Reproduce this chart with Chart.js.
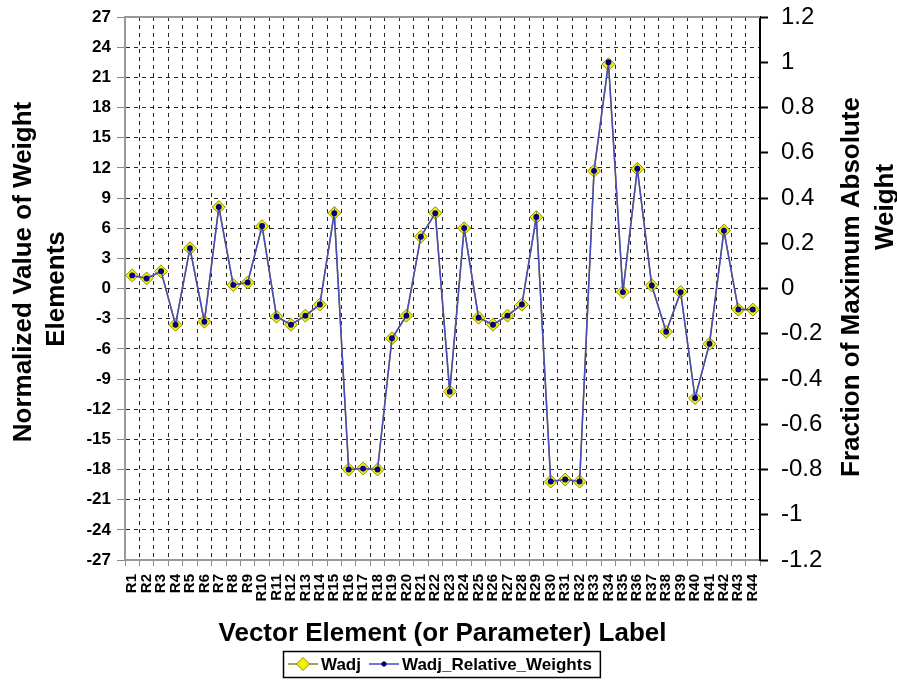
<!DOCTYPE html>
<html>
<head>
<meta charset="utf-8">
<title>Wadj</title>
<script src="https://cdn.jsdelivr.net/npm/chart.js@4.4.1/dist/chart.umd.min.js"></script>
<style>
  html, body { margin: 0; padding: 0; background: #fff; }
  #chart { display: block; }
</style>
</head>
<body>
<canvas id="chart" width="897" height="685"></canvas>
<script>
// vector elements along the x axis
const labels = ['R1', 'R2', 'R3', 'R4', 'R5', 'R6', 'R7', 'R8', 'R9', 'R10',
    'R11', 'R12', 'R13', 'R14', 'R15', 'R16', 'R17', 'R18', 'R19', 'R20',
    'R21', 'R22', 'R23', 'R24', 'R25', 'R26', 'R27', 'R28', 'R29', 'R30',
    'R31', 'R32', 'R33', 'R34', 'R35', 'R36', 'R37', 'R38', 'R39', 'R40',
    'R41', 'R42', 'R43', 'R44'];

// normalized weight values (left axis)
const wadj = [1.3, 1.0, 1.7, -3.6, 4.0, -3.3, 8.1, 0.35, 0.6, 6.2,
    -2.8, -3.6, -2.7, -1.6, 7.5, -18.0, -17.9, -18.0, -4.95, -2.7,
    5.15, 7.5, -10.25, 6.0, -2.9, -3.6, -2.7, -1.6, 7.1, -19.2,
    -19.0, -19.2, 11.7, 22.3, -0.35, 11.9, 0.3, -4.3, -0.35, -10.9,
    -5.5, 5.75, -2.1, -2.1];

// fraction of the maximum absolute weight (right axis)
const relWeights = [0.058, 0.044, 0.076, -0.160, 0.178, -0.147, 0.360, 0.016, 0.027, 0.276,
    -0.124, -0.160, -0.120, -0.071, 0.333, -0.800, -0.796, -0.800, -0.220, -0.120,
    0.229, 0.333, -0.456, 0.267, -0.129, -0.160, -0.120, -0.071, 0.316, -0.853,
    -0.844, -0.853, 0.520, 1.000, -0.016, 0.529, 0.013, -0.191, -0.016, -0.484,
    -0.244, 0.256, -0.093, -0.093];

const seriesNames = ['Wadj', 'Wadj_Relative_Weights'];
const leftTitle = ['Normalized Value of Weight', 'Elements'];
const rightTitle = ['Fraction of Maximum Absolute', 'Weight'];
const xTitle = 'Vector Element (or Parameter) Label';

Chart.defaults.font.family = '"Liberation Sans", Arial, sans-serif';
Chart.defaults.color = '#000';

function rotatedText(ctx, text, x, y) {
    ctx.save();
    ctx.translate(x, y);
    ctx.rotate(-Math.PI / 2);
    ctx.fillText(text, 0, 0);
    ctx.restore();
}

// top frame line, the two vertical axis titles (both read bottom-to-top) and the boxed legend
const decorations = {
    id: 'decorations',
    afterDraw(chart) {
        const { ctx, chartArea: a } = chart;
        ctx.save();

        ctx.strokeStyle = '#999';
        ctx.lineWidth = 2;
        ctx.beginPath();
        ctx.moveTo(a.left, a.top);
        ctx.lineTo(a.right, a.top);
        ctx.stroke();

        ctx.fillStyle = '#000';
        ctx.font = 'bold 26px "Liberation Sans", Arial, sans-serif';
        ctx.textAlign = 'center';
        ctx.textBaseline = 'middle';
        rotatedText(ctx, leftTitle[0], 24, 272);
        rotatedText(ctx, leftTitle[1], 57, 289);
        rotatedText(ctx, rightTitle[0], 852, 287);
        rotatedText(ctx, rightTitle[1], 886, 207);

        // legend
        ctx.font = 'bold 17px "Liberation Sans", Arial, sans-serif';
        ctx.textAlign = 'left';
        const left = 283, top = 651, h = 26;
        const y = top + h / 2;
        let x = left + 5;
        chart.data.datasets.forEach(ds => {
            ctx.strokeStyle = ds.borderColor;
            ctx.lineWidth = 1.5;
            ctx.beginPath();
            ctx.moveTo(x, y);
            ctx.lineTo(x + 30, y);
            ctx.stroke();
            ctx.fillStyle = ds.pointBackgroundColor;
            ctx.strokeStyle = ds.pointBorderColor;
            ctx.lineWidth = 1;
            Chart.helpers.drawPoint(ctx, { pointStyle: ds.pointStyle, radius: ds.pointRadius, borderWidth: 1 }, x + 15, y);
            ctx.fillStyle = '#000';
            ctx.fillText(ds.label, x + 33, y + 1);
            x += 33 + ctx.measureText(ds.label).width + 8;
        });
        ctx.strokeStyle = '#000';
        ctx.lineWidth = 1.5;
        ctx.strokeRect(left + 0.5, top + 0.5, x - left, h);

        ctx.restore();
    }
};

const gridColor = 'rgba(0,0,0,0.85)';

// fixed axis widths; drop the label overhang padding so the plot top follows layout.padding
function fitVertical(width) {
    return function (s) {
        s.width = width;
        s.paddingTop = 0;
        s.paddingBottom = 0;
    };
}

new Chart(document.getElementById('chart'), {
    type: 'line',
    data: {
        labels: labels,
        datasets: [
            {
                label: seriesNames[0],
                data: wadj,
                yAxisID: 'y',
                order: 1,
                borderColor: '#7c8a1c',
                borderWidth: 1.5,
                pointStyle: 'rectRot',
                pointRadius: 6.5,
                pointBackgroundColor: '#f5f000',
                pointBorderColor: '#8c8c00',
                pointBorderWidth: 1,
                tension: 0
            },
            {
                label: seriesNames[1],
                data: relWeights,
                yAxisID: 'y1',
                order: 0,
                borderColor: '#4a4abf',
                borderWidth: 1.5,
                pointStyle: 'circle',
                pointRadius: 2.2,
                pointBackgroundColor: '#000080',
                pointBorderColor: '#000080',
                tension: 0
            }
        ]
    },
    options: {
        responsive: false,
        animation: false,
        layout: { padding: { top: 17, bottom: 35, left: 0, right: 0 } },
        scales: {
            x: {
                offset: true,
                ticks: {
                    autoSkip: false,
                    maxRotation: 90,
                    minRotation: 90,
                    padding: 8,
                    font: { size: 15, weight: 'bold' }
                },
                grid: { offset: true, color: gridColor, tickLength: 6, tickColor: '#888' },
                border: { color: '#999', width: 2, dash: [4, 4] },
                title: {
                    display: true,
                    text: xTitle,
                    font: { size: 26, weight: 'bold' },
                    padding: { top: 0, bottom: 1 }
                },
                afterFit(s) { s.height = 90; }
            },
            y: {
                position: 'left',
                min: -27,
                max: 27,
                ticks: { stepSize: 3, padding: 6, font: { size: 17, weight: 'bold' } },
                grid: { color: gridColor, tickLength: 8, tickColor: '#888' },
                border: { color: '#999', width: 2, dash: [4, 4] },
                afterFit: fitVertical(125)
            },
            y1: {
                position: 'right',
                min: -1.2,
                max: 1.2,
                ticks: {
                    stepSize: 0.2,
                    padding: 13,
                    font: { size: 24 },
                    callback: v => +v.toFixed(1)
                },
                grid: { drawOnChartArea: false, tickLength: 8, tickColor: '#000', tickWidth: 2 },
                border: { color: '#000', width: 2 },
                afterFit: fitVertical(137)
            }
        },
        plugins: {
            legend: { display: false },
            tooltip: { enabled: false }
        }
    },
    plugins: [decorations]
});
</script>
</body>
</html>
